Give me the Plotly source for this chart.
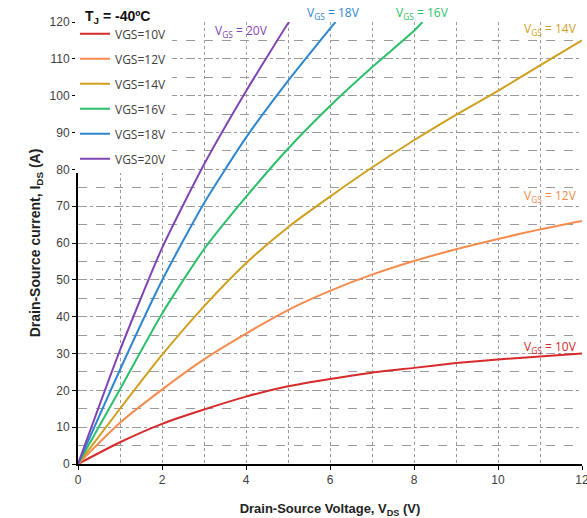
import plotly.graph_objects as go

# ---- data ----
vds = [0, 1, 2, 3, 4, 5, 6, 7, 8, 9, 10, 11, 12]
ids_10 = [0, 5.9, 10.9, 14.8, 18.3, 21.1, 23.1, 24.8, 26.1, 27.4, 28.4, 29.2, 30.0]
ids_12 = [0, 11.2, 20.2, 28.4, 35.4, 41.8, 47.0, 51.4, 55.1, 58.3, 61.1, 63.7, 66.0]
ids_14 = [0, 15.0, 29.6, 42.8, 54.5, 64.3, 72.6, 80.5, 87.9, 94.8, 101.3, 108.2, 115.0]
vds_16 = [0, 1, 2, 3, 4, 5, 6, 7, 8, 8.2]
ids_16 = [0, 20.3, 40.8, 58.3, 72.5, 85.6, 97.2, 107.7, 117.6, 120]
vds_18 = [0, 1, 2, 3, 4, 5, 6, 6.13]
ids_18 = [0, 25.6, 49.8, 70.8, 88.6, 104.0, 118.2, 120]
vds_20 = [0, 1, 2, 3, 4, 5, 5.03]
ids_20 = [0, 30.9, 58.6, 81.3, 101.2, 119.6, 120]

x_ticks = [0, 2, 4, 6, 8, 10, 12]
y_ticks = [0, 10, 20, 30, 40, 50, 60, 70, 80, 90, 100, 110, 120]

names = ["VGS=10V", "VGS=12V", "VGS=14V", "VGS=16V", "VGS=18V", "VGS=20V"]
labels = ["V<sub>GS</sub> = 10V", "V<sub>GS</sub> = 12V", "V<sub>GS</sub> = 14V",
          "V<sub>GS</sub> = 16V", "V<sub>GS</sub> = 18V", "V<sub>GS</sub> = 20V"]
colors = ["#D62A2B", "#F58B4C", "#CF9F1E", "#2BBF6A", "#2E86D1", "#8045B4"]
xs = [vds, vds, vds, vds_16, vds_18, vds_20]
ys = [ids_10, ids_12, ids_14, ids_16, ids_18, ids_20]
# label anchor positions: x in data coords, y in data coords (None -> above plot)
lab_x = [11.26, 11.26, 11.26, 8.2, 6.08, 3.9]
lab_y = [31.7, 72.7, 118.0, None, None, 117.5]

fig = go.Figure()
for i in range(6):
    fig.add_trace(go.Scatter(
        x=xs[i], y=ys[i], mode="lines", name=names[i],
        legendgroup=names[i],
        line=dict(color=colors[i], width=2, shape="spline", smoothing=0.6),
        cliponaxis=True,
    ))
    if lab_y[i] is None:
        fig.add_annotation(x=lab_x[i], xref="x", y=1, yref="paper", yshift=9,
                           text=labels[i], showarrow=False,
                           font=dict(family="Open Sans", size=12, color=colors[i]),
                           xanchor="center", yanchor="middle")
    else:
        fig.add_annotation(x=lab_x[i], y=lab_y[i], text=labels[i], showarrow=False,
                           font=dict(family="Open Sans", size=12, color=colors[i]),
                           xanchor="center", yanchor="middle")

fig.add_annotation(xref="paper", yref="paper", x=0, y=1, xshift=5, yshift=-6,
                   text="<b>T<sub>J</sub> = -40ºC</b>", showarrow=False,
                   xanchor="left", yanchor="bottom",
                   font=dict(family="Liberation Sans", size=14, color="#111111"))

grid = dict(gridcolor="#9A9A9A", griddash="dot", gridwidth=1)

fig.update_layout(
    width=587, height=518,
    margin=dict(l=78, r=5, t=22, b=54),
    paper_bgcolor="white", plot_bgcolor="white",
    font=dict(family="Liberation Sans", size=12, color="#404040"),
    showlegend=True,
    legend=dict(x=-0.006, y=1.006, xanchor="left", yanchor="top",
                bgcolor="white", borderwidth=0, traceorder="grouped",
                tracegroupgap=6, itemwidth=30,
                font=dict(family="Open Sans", size=12, color="#404040")),
    xaxis=dict(range=[0, 12], tickmode="array", tickvals=x_ticks,
               ticktext=[str(v) for v in x_ticks], ticklabeloverflow="allow",
               automargin=False,
               showline=True, linecolor="black",
               linewidth=2, ticks="outside", ticklen=4, tickcolor="black",
               zeroline=False, showgrid=True, **grid,
               minor=dict(dtick=1, showgrid=True, gridcolor="#9A9A9A", griddash="dot"),
               title=dict(text="<b>Drain-Source Voltage, V<sub>DS</sub> (V)</b>",
                          font=dict(size=13, color="#222222"), standoff=18)),
    yaxis=dict(range=[0, 120], tickmode="array", tickvals=y_ticks,
               ticktext=[str(v) for v in y_ticks],
               showline=True, linecolor="black",
               linewidth=2, ticks="outside", ticklen=4, tickcolor="black",
               zeroline=False, showgrid=True, **grid,
               minor=dict(dtick=5, showgrid=True, gridcolor="#9A9A9A", griddash="dash"),
               title=dict(text="<b>Drain-Source current, I<sub>DS</sub> (A)</b>",
                          font=dict(size=14, color="#222222"), standoff=6)),
)

fig.write_html("out.html")
